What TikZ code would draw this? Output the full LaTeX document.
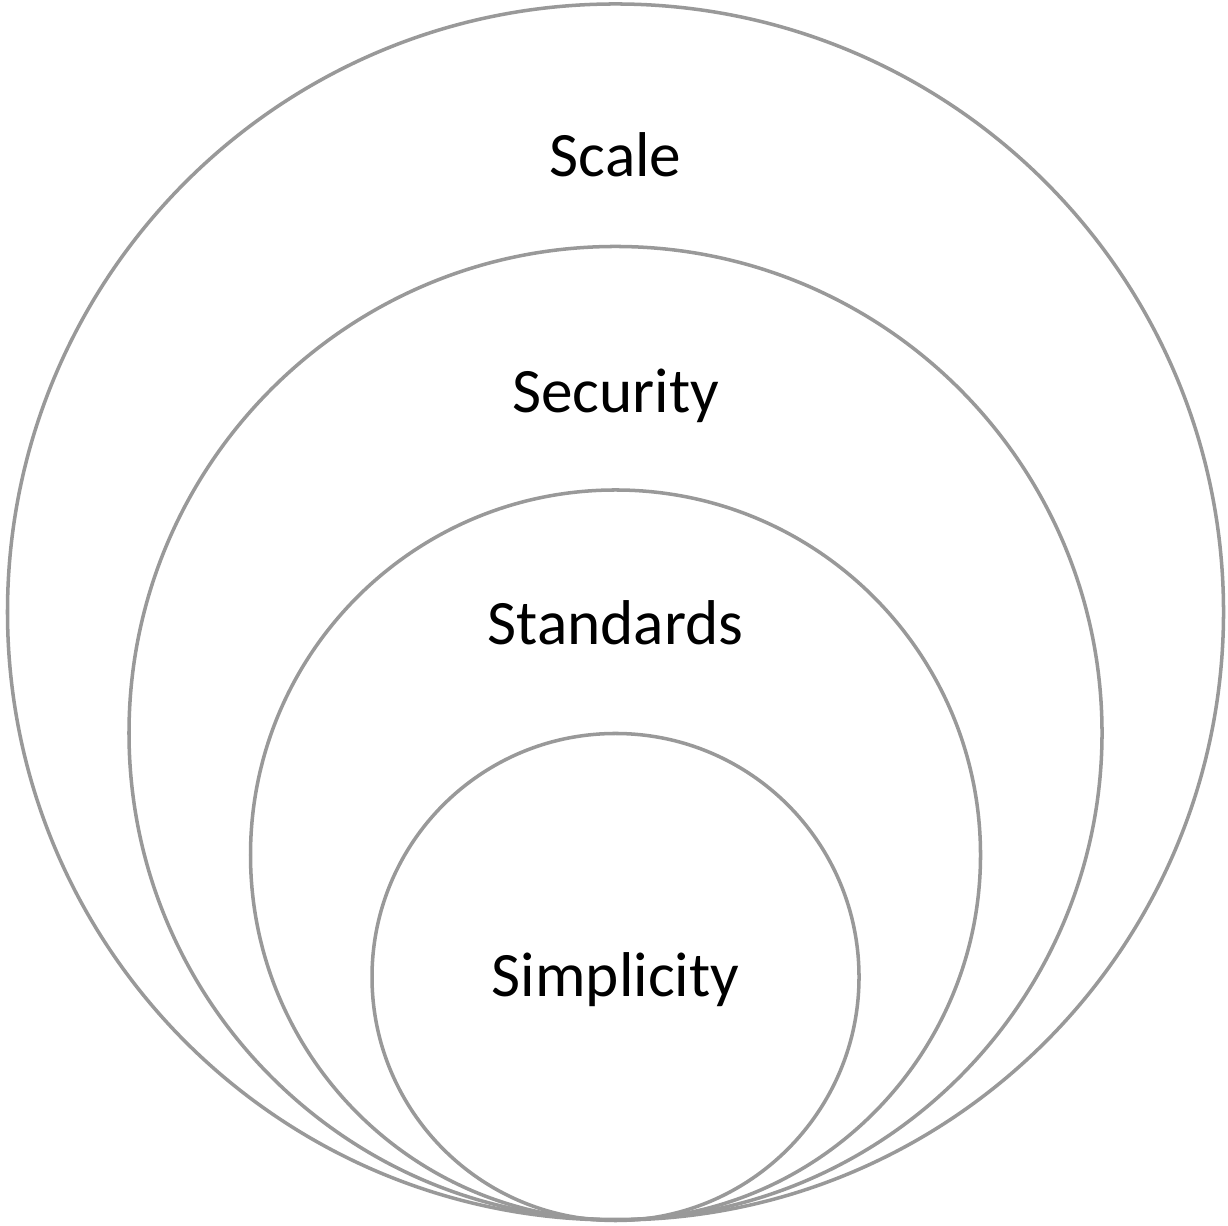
\documentclass[tikz,border=0pt]{standalone}
\usepackage{fontspec}
\setmainfont{Carlito}

\begin{document}
\begin{tikzpicture}
	\tikzstyle{ring} = [draw=black!40, line width=1pt]
	\tikzstyle{every node} = [font=\fontsize{18}{22}\selectfont, anchor=base, inner sep=0pt]
	\useasboundingbox (0,0) rectangle (12.28,12.25);

	\draw[ring] (6.155,6.13) circle (6.08);
	\draw[ring] (6.155,4.92) circle (4.865);
	\draw[ring] (6.155,3.70) circle (3.65);
	\draw[ring] (6.155,2.48) circle (2.435);

	\node (Scale) at (6.155,10.48) {Scale};
	\node (Security) at (6.155,8.12) {Security};
	\node (Standards) at (6.155,5.80) {Standards};
	\node (Simplicity) at (6.155,2.28) {Simplicity};

\end{tikzpicture}
\end{document}
